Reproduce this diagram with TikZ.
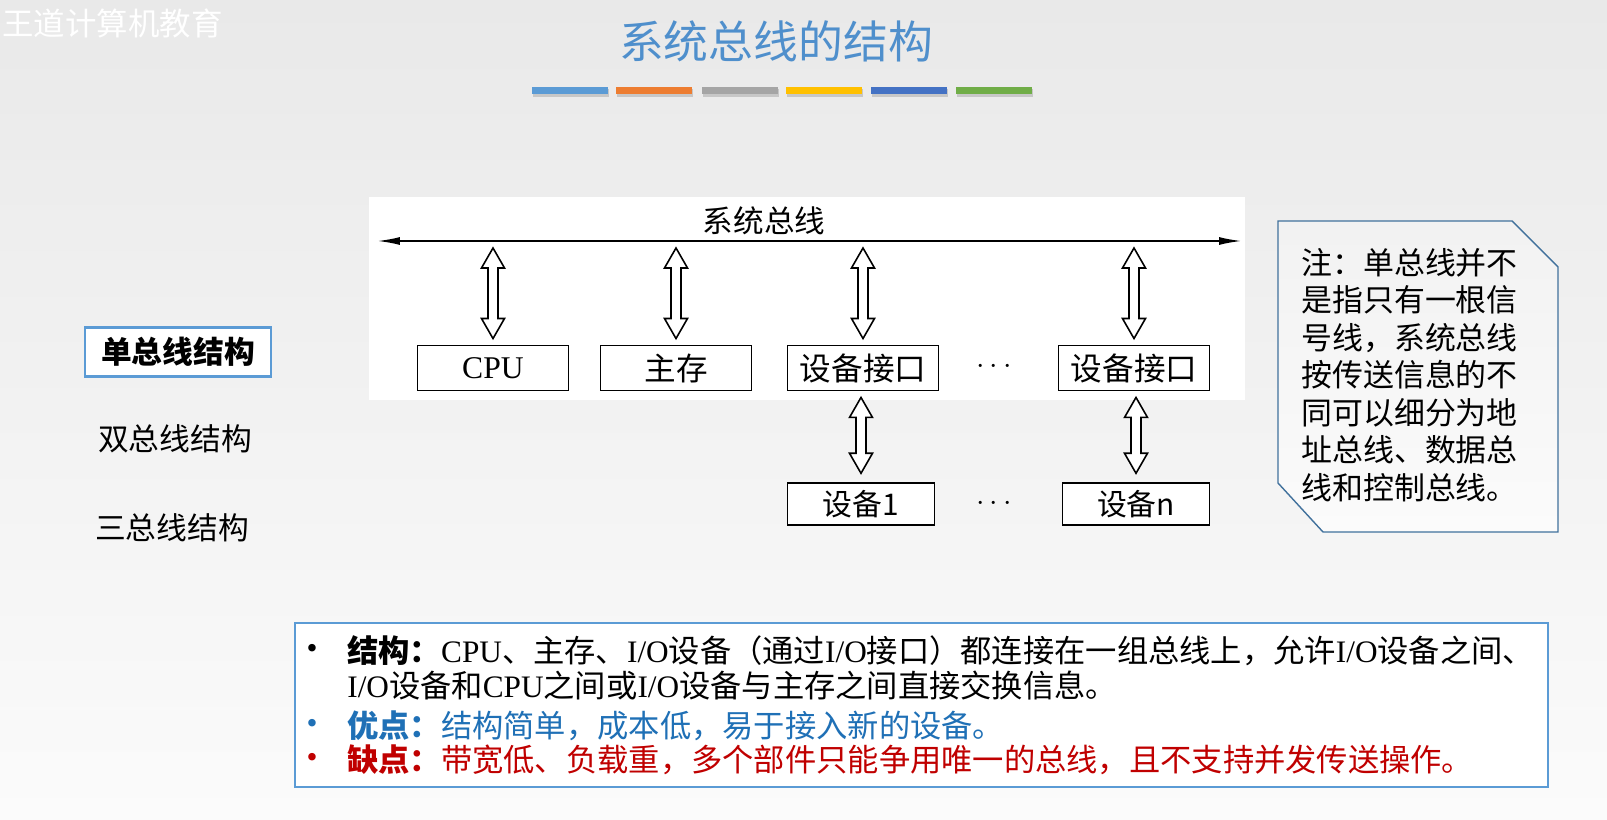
\documentclass[tikz,border=0pt]{standalone}
\usepackage{fontspec}
\setmainfont{Noto Sans CJK SC}
\newfontfamily\tmsfont{Liberation Serif}
\usetikzlibrary{arrows.meta,calc}

\definecolor{titleblue}{RGB}{79,143,204}
\definecolor{barA}{RGB}{91,155,213}
\definecolor{barB}{RGB}{237,125,49}
\definecolor{barC}{RGB}{165,165,165}
\definecolor{barD}{RGB}{255,192,0}
\definecolor{barE}{RGB}{68,114,196}
\definecolor{barF}{RGB}{112,173,71}
\definecolor{noteline}{RGB}{65,113,156}
\definecolor{frameblue}{RGB}{91,155,213}
\definecolor{problue}{RGB}{31,112,182}
\definecolor{conred}{RGB}{192,0,0}
\definecolor{bgtop}{RGB}{233,233,233}
\definecolor{bgbot}{RGB}{251,251,251}

\newcommand\tm[1]{{\tmsfont #1}}
\newcommand\hollowlink[2]{%
  \coordinate (hlA) at (#1);
  \coordinate (hlB) at (#2);
  \draw[hollow] (hlA) -- ++(11.5,20) -- ++(-6.5,0) -- ($(hlB)+(5,-20)$) -- ++(6.5,0)
    -- (hlB) -- ++(-11.5,-20) -- ++(6.5,0) -- ($(hlA)+(-5,20)$) -- ++(-6.5,0) -- cycle;}

\tikzset{
  unitbox/.style={draw, line width=1.1pt, fill=white, minimum width=3.02cm,
    minimum height=0.9cm, inner sep=0pt, font=\fontsize{18pt}{18pt}\selectfont},
  devbox/.style={draw, line width=1.1pt, fill=white, minimum width=2.94cm,
    minimum height=0.83cm, inner sep=0pt, font=\fontsize{17pt}{17pt}\selectfont},
  hollow/.style={draw, line width=0.9pt, fill=white, line join=miter},
  menuitem/.style={inner sep=0pt, font=\fontsize{17.5pt}{17.5pt}\selectfont},
  textline/.style={anchor=west, inner sep=0pt, font=\fontsize{17.8pt}{17.8pt}\selectfont},
  dotmark/.style={inner sep=0pt, font=\fontsize{17.8pt}{17.8pt}\selectfont},
}

\begin{document}
\begin{tikzpicture}[x=0.02cm, y=-0.02cm]
    % Nền
    \useasboundingbox (0,0) rectangle (1607,820);
    \shade[top color=bgtop, bottom color=bgbot] (0,0) rectangle (1607,820);
    \node[anchor=west, inner sep=0pt, white, font=\fontsize{17.9pt}{17.9pt}\selectfont] (mark) at (2,23) {王道计算机教育};

    % Tiêu đề và các thanh màu
    \node[titleblue, inner sep=0pt, font=\fontsize{25.5pt}{25.5pt}\selectfont] (title) at (776,41) {系统总线的结构};
    \foreach \xa/\col in {532/barA, 616/barB, 702/barC, 786/barD, 871/barE, 956/barF} {
        \fill[black, opacity=0.15] (\xa+1,89) rectangle ++(76,8);
        \fill[\col] (\xa,87) rectangle ++(76,7);
    }

    % Danh mục bên trái
    \node[menuitem, draw=frameblue, line width=1.5pt, fill=white, minimum width=3.72cm,
        minimum height=0.98cm, font=\fontsize{17.5pt}{17.5pt}\selectfont\bfseries] (single) at (178,352) {单总线结构};
    \node[menuitem] (dual) at (175,439) {双总线结构};
    \node[menuitem] (triple) at (172,528) {三总线结构};

    % Sơ đồ bus
    \fill[white] (369,197) rectangle (1245,400);
    \coordinate (busL) at (377,241);
    \coordinate (busR) at (1242,241);
    \draw[{Latex[length=13pt,width=4.5pt]}-{Latex[length=13pt,width=4.5pt]}, line width=1.1pt] (busL) -- (busR);
    \node[inner sep=0pt, font=\fontsize{17.4pt}{17.4pt}\selectfont] (buslabel) at (764,221) {系统总线};

    \node[unitbox] (cpu) at (493,368) {\tm{CPU}};
    \node[unitbox] (mem) at (676,368) {主存};
    \node[unitbox] (ifa) at (863,368) {设备接口};
    \node[inner sep=0pt] (dotsA) at (994,367) {\fontsize{18pt}{18pt}\selectfont$\cdots$};
    \node[unitbox] (ifb) at (1134,368) {设备接口};

    \node[devbox] (deva) at (861,504) {设备1};
    \node[inner sep=0pt] (dotsB) at (994,504) {\fontsize{18pt}{18pt}\selectfont$\cdots$};
    \node[devbox] (devn) at (1136,504) {设备n};

    \hollowlink{$(cpu.north |- busL)+(0,7)$}{$(cpu.north)+(0,-6)$}
    \hollowlink{$(mem.north |- busL)+(0,7)$}{$(mem.north)+(0,-6)$}
    \hollowlink{$(ifa.north |- busL)+(0,7)$}{$(ifa.north)+(0,-6)$}
    \hollowlink{$(ifb.north |- busL)+(0,7)$}{$(ifb.north)+(0,-6)$}
    \hollowlink{$(deva.north |- ifa.south)+(0,6)$}{$(deva.north)+(0,-9)$}
    \hollowlink{$(devn.north |- ifb.south)+(0,6)$}{$(devn.north)+(0,-9)$}

    % Ghi chú
    \shade[draw=noteline, line width=0.8pt, top color=bgtop!60!white, bottom color=bgbot]
        (1278,221) -- (1512,221) -- (1558,267) -- (1558,532) -- (1323,532) -- (1278,483) -- cycle;
    \node[anchor=west, align=left, inner sep=0pt, font=\fontsize{17.6pt}{21.3pt}\selectfont] (note) at (1301,375)
        {注：单总线并不\\是指只有一根信\\号线，系统总线\\按传送信息的不\\同可以细分为地\\址总线、数据总\\线和控制总线。};

    % Khung ưu nhược điểm
    \draw[frameblue, line width=0.9pt, fill=white] (295,623) rectangle (1548,787);
    \node[dotmark] (ba) at (312,651) {\tm{•}};
    \node[textline] (la) at (347,651) {{\bfseries 结构：}\tm{CPU}、主存、\tm{I/O}设备（通过\tm{I/O}接口）都连接在一组总线上，允许\tm{I/O}设备之间、};
    \node[textline] (lb) at (347,686) {\tm{I/O}设备和\tm{CPU}之间或\tm{I/O}设备与主存之间直接交换信息。};
    \node[dotmark, problue] (bb) at (312,726) {\tm{•}};
    \node[textline, problue] (lc) at (347,726) {{\bfseries 优点：}结构简单，成本低，易于接入新的设备。};
    \node[dotmark, conred] (bc) at (312,760) {\tm{•}};
    \node[textline, conred] (ld) at (347,760) {{\bfseries 缺点：}带宽低、负载重，多个部件只能争用唯一的总线，且不支持并发传送操作。};
\end{tikzpicture}
\end{document}
